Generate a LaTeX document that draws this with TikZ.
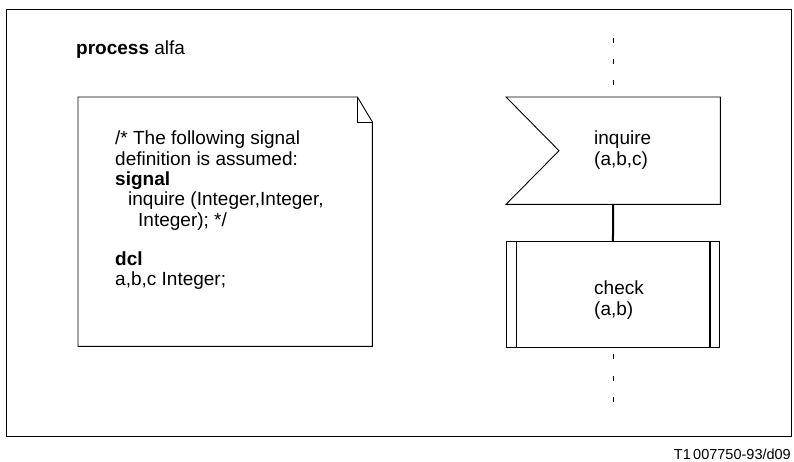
\documentclass[tikz,border=0pt]{standalone}
\usepackage{fontspec}
\setmainfont{Liberation Sans}
\usetikzlibrary{calc}
\begin{document}
\begin{tikzpicture}[x=1pt,y=-1pt,line join=miter,
  outline/.style={line width=0.9pt},
  body/.style={font=\fontsize{19}{21}\selectfont,inner sep=0pt,anchor=base west},
  shapebox/.style={inner sep=0pt,anchor=north west},
  lifeline/.style={line width=0.9pt,dash pattern=on 5pt off 16pt}]
\useasboundingbox (0,0) rectangle (794,462);
% outer frame
\draw[outline] (6,9) rectangle (791,436);
\node[body] (title) at (76,55) {\textbf{process} alfa};

% text symbol with folded corner
\node[shapebox,minimum width=294pt,minimum height=249pt] (note) at (78,97) {};
\draw[outline] (note.north west) -- ($(note.north east)+(-15pt,0)$) coordinate (fa)
  -- ($(note.north east)+(0,-25pt)$) coordinate (fb)
  -- (note.south east) -- (note.south west) -- cycle;
\draw[outline] (fa) |- (fb);
\node[body] (n1) at (115,145) {/* The following signal};
\node[body] (n2) at (115,165.5) {definition is assumed:};
\node[body] (n3) at (115,186) {\textbf{signal}};
\node[body] (n4) at (128,206) {inquire (Integer,Integer,};
\node[body] (n5) at (138,226.5) {Integer); */};
\node[body] (n6) at (115,265) {\textbf{dcl}};
\node[body] (n7) at (115,285) {a,b,c Integer;};

% input signal symbol
\node[shapebox,minimum width=214pt,minimum height=107pt] (sig) at (506,97) {};
\draw[outline] (sig.north west) -- (sig.north east) -- (sig.south east)
  -- (sig.south west) -- ($(sig.west)+(53pt,0)$) -- cycle;
\node[body] (sigA) at (594,145) {inquire};
\node[body] (sigB) at (594,166) {(a,b,c)};

% procedure call symbol
\node[shapebox,draw,outline,minimum width=213pt,minimum height=106pt] (chk) at (506,241) {};
\draw[outline] ($(chk.north west)+(10pt,0)$) -- ($(chk.south west)+(10pt,0)$);
\draw[line width=2pt] ($(chk.north east)+(-10pt,0)$) -- ($(chk.south east)+(-10pt,0)$);
\node[body] (chkA) at (594,294) {check};
\node[body] (chkB) at (594,315) {(a,b)};

% flow line
\draw[line width=2pt] (sig.south) -- (chk.north);

% continuation of the flow
\coordinate (upA) at (613,38);
\coordinate (upB) at (613,85);
\coordinate (dnA) at (613,354);
\coordinate (dnB) at (613,403);
\draw[lifeline] (upA) -- (upB);
\draw[lifeline,dash pattern=on 5pt off 16.5pt] (dnA) -- (dnB);

\node[font=\fontsize{14.5}{16}\selectfont,inner sep=0pt,anchor=base east] (ref) at (791,459) {T1\,007750-93/d09};
\end{tikzpicture}
\end{document}
